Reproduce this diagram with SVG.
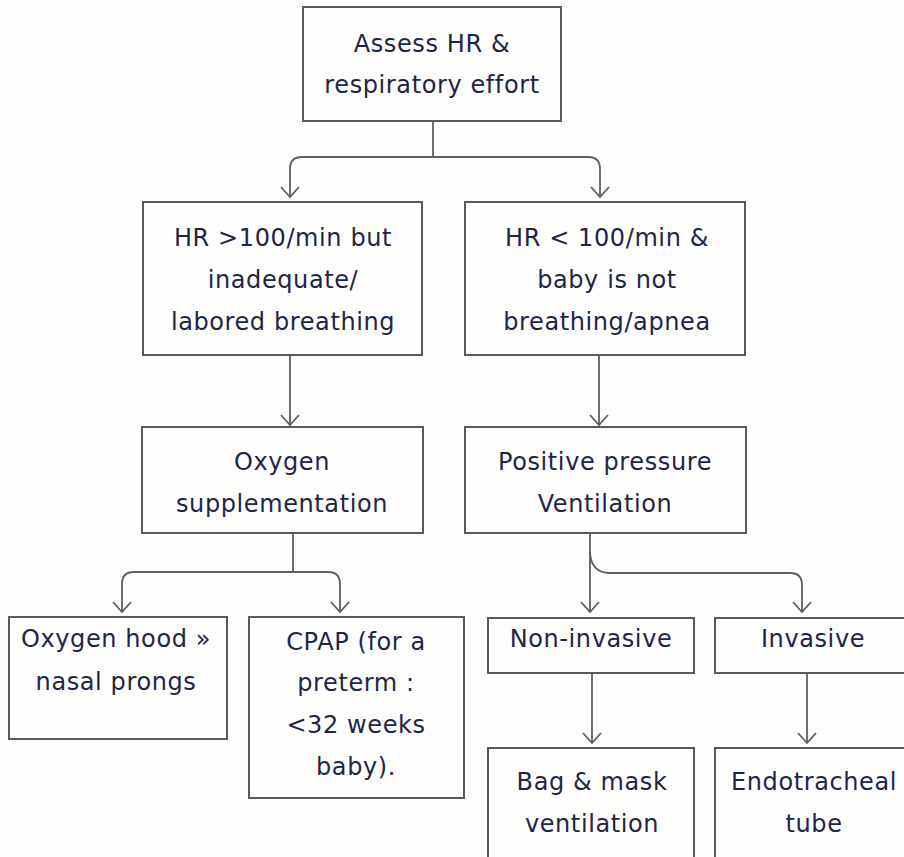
<svg xmlns="http://www.w3.org/2000/svg" width="904" height="857" viewBox="0 0 904 857">
  <style>
    .box { fill: none; stroke: #5a5a5a; stroke-width: 2; }
    .lbl { font-family: "DejaVu Sans", "Liberation Sans", sans-serif; font-size: 24px; letter-spacing: 0.6px; fill: #1f2547; text-anchor: middle; }
    .wire { fill: none; stroke: #5f5f5f; stroke-width: 1.8; }
  </style>
  <defs>
    <marker id="chev" viewBox="0 0 12 20" refX="11" refY="10" markerWidth="12" markerHeight="20" markerUnits="userSpaceOnUse" orient="auto">
      <path d="M1,1 L11,10 L1,19" fill="none" stroke="#5f5f5f" stroke-width="1.8"/>
    </marker>
  </defs>
  <rect width="904" height="857" fill="#fdfdfc"/>

  <g id="connectors">
    <path class="wire" d="M433,121 V157" />
    <path class="wire" d="M433,157 H302 Q290,157 290,169 V197" marker-end="url(#chev)"/>
    <path class="wire" d="M433,157 H588 Q600,157 600,169 V197" marker-end="url(#chev)"/>
    <path class="wire" d="M290,355 V425" marker-end="url(#chev)"/>
    <path class="wire" d="M599,355 V425" marker-end="url(#chev)"/>
    <path class="wire" d="M293,533 V572" />
    <path class="wire" d="M293,572 H134 Q122,572 122,584 V612" marker-end="url(#chev)"/>
    <path class="wire" d="M293,572 H328 Q340,572 340,584 V612" marker-end="url(#chev)"/>
    <path class="wire" d="M590,533 V612" marker-end="url(#chev)"/>
    <path class="wire" d="M590,552 Q591,573 610,573 H790 Q802,573 802,585 V612" marker-end="url(#chev)"/>
    <path class="wire" d="M592,673 V743" marker-end="url(#chev)"/>
    <path class="wire" d="M807,673 V743" marker-end="url(#chev)"/>
  </g>

  <g id="assess">
    <rect class="box" x="303" y="7" width="258" height="114"/>
    <text class="lbl" x="432" y="52">Assess HR &amp;</text>
    <text class="lbl" x="432" y="93">respiratory effort</text>
  </g>

  <g id="hr-above-100">
    <rect class="box" x="143" y="202" width="279" height="153"/>
    <text class="lbl" x="283" y="246">HR &gt;100/min but</text>
    <text class="lbl" x="283" y="288">inadequate/</text>
    <text class="lbl" x="283" y="330">labored breathing</text>
  </g>

  <g id="hr-below-100">
    <rect class="box" x="465" y="202" width="280" height="153"/>
    <text class="lbl" x="607" y="246">HR &lt; 100/min &amp;</text>
    <text class="lbl" x="607" y="288">baby is not</text>
    <text class="lbl" x="607" y="330">breathing/apnea</text>
  </g>

  <g id="oxygen">
    <rect class="box" x="142" y="427" width="281" height="106"/>
    <text class="lbl" x="282" y="470">Oxygen</text>
    <text class="lbl" x="282" y="512">supplementation</text>
  </g>

  <g id="ppv">
    <rect class="box" x="465" y="427" width="281" height="106"/>
    <text class="lbl" x="605" y="470">Positive pressure</text>
    <text class="lbl" x="605" y="512">Ventilation</text>
  </g>

  <g id="hood">
    <rect class="box" x="9" y="617" width="218" height="122"/>
    <text class="lbl" x="116" y="647">Oxygen hood »</text>
    <text class="lbl" x="116" y="690">nasal prongs</text>
  </g>

  <g id="cpap">
    <rect class="box" x="249" y="617" width="215" height="181"/>
    <text class="lbl" x="356" y="650">CPAP (for a</text>
    <text class="lbl" x="356" y="691">preterm :</text>
    <text class="lbl" x="356" y="733">&lt;32 weeks</text>
    <text class="lbl" x="356" y="775">baby).</text>
  </g>

  <g id="non-invasive">
    <rect class="box" x="488" y="618" width="206" height="55"/>
    <text class="lbl" x="591" y="647">Non-invasive</text>
  </g>

  <g id="invasive">
    <rect class="box" x="715" y="618" width="200" height="55"/>
    <text class="lbl" x="813" y="647">Invasive</text>
  </g>

  <g id="bag-mask">
    <rect class="box" x="488" y="748" width="206" height="130"/>
    <text class="lbl" x="592" y="790">Bag &amp; mask</text>
    <text class="lbl" x="592" y="832">ventilation</text>
  </g>

  <g id="endotracheal">
    <rect class="box" x="715" y="748" width="200" height="130"/>
    <text class="lbl" x="814" y="790">Endotracheal</text>
    <text class="lbl" x="814" y="832">tube</text>
  </g>
</svg>
